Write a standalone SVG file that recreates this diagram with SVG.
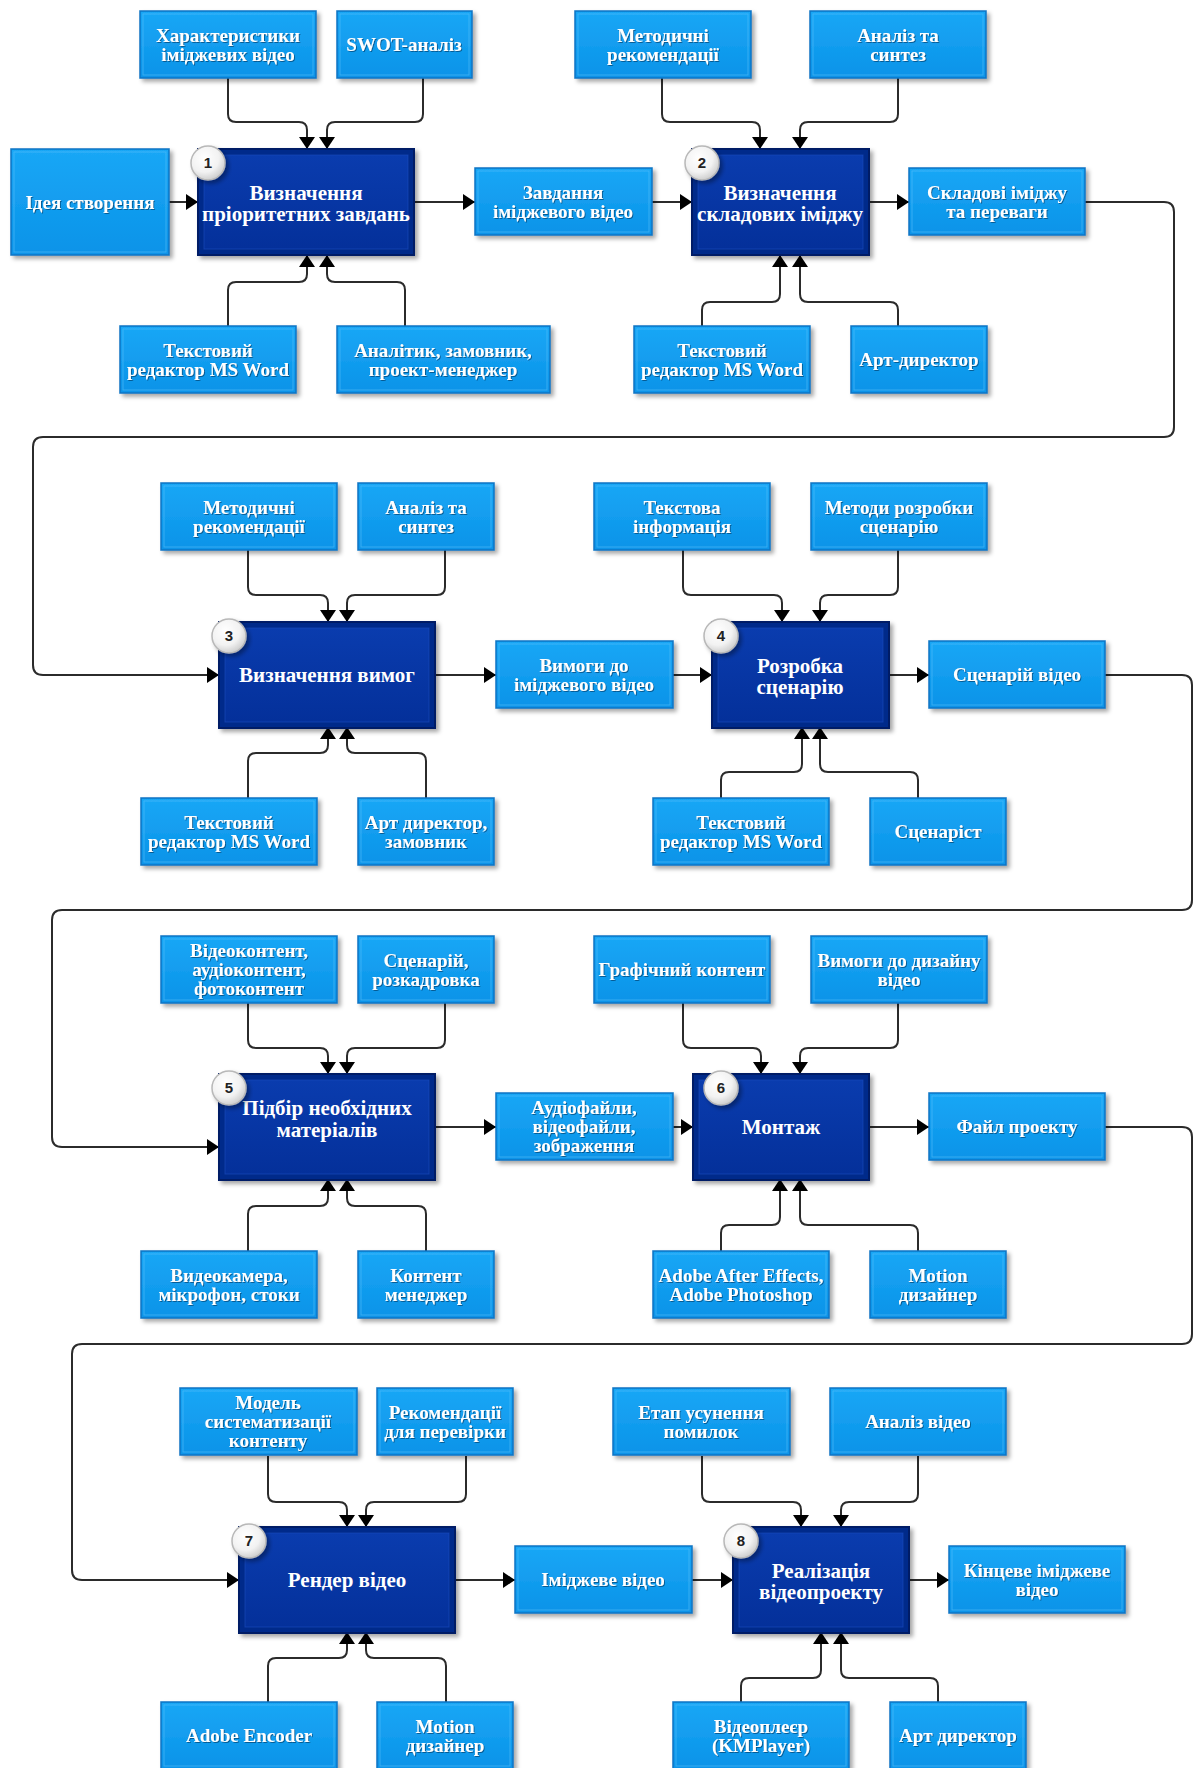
<svg xmlns="http://www.w3.org/2000/svg" width="1195" height="1768" viewBox="0 0 1195 1768">
<defs>
<linearGradient id="gBox" x1="0" y1="0" x2="0" y2="1">
<stop offset="0" stop-color="#1aa7f6"/><stop offset="1" stop-color="#0a93e8"/>
</linearGradient>
<linearGradient id="gNode" x1="0" y1="0" x2="0" y2="1">
<stop offset="0" stop-color="#0a3cae"/><stop offset="1" stop-color="#04309a"/>
</linearGradient>
<radialGradient id="gBadge" cx="0.4" cy="0.35" r="0.7">
<stop offset="0" stop-color="#ffffff"/><stop offset="0.6" stop-color="#f2f2f2"/><stop offset="1" stop-color="#c9c9c9"/>
</radialGradient>
<filter id="sh" x="-10%" y="-10%" width="130%" height="140%">
<feDropShadow dx="3" dy="3" stdDeviation="2" flood-color="#000" flood-opacity="0.35"/>
</filter>
<filter id="tsh" x="-5%" y="-20%" width="110%" height="150%">
<feDropShadow dx="1" dy="1" stdDeviation="0.6" flood-color="#00305a" flood-opacity="0.6"/>
</filter>
<marker id="ah" viewBox="0 0 12 16" refX="12" refY="8" markerWidth="12" markerHeight="16" markerUnits="userSpaceOnUse" orient="auto">
<path d="M0,0 L12,8 L0,16 z" fill="#000"/>
</marker>
<style>
.box{fill:url(#gBox);stroke:#0a74c4;stroke-width:1.5;filter:url(#sh)}
.bin{fill:none;stroke:#5cc3fa;stroke-opacity:0.55;stroke-width:1}
.node{fill:#062a8a;stroke:#011a66;stroke-width:2;filter:url(#sh)}
.nin{fill:url(#gNode);stroke:#1a4cc0;stroke-opacity:0.6;stroke-width:1}
.t{font-family:"Liberation Serif","Times New Roman",serif;font-weight:bold;fill:#fff;text-anchor:middle;font-size:19px;filter:url(#tsh)}
.tn{font-family:"Liberation Serif","Times New Roman",serif;font-weight:bold;fill:#fff;text-anchor:middle;font-size:21px}
.badge{fill:url(#gBadge);stroke:#b8b8b8;stroke-width:1.5;filter:url(#sh)}
.bn{font-family:"Liberation Sans",Arial,sans-serif;font-weight:bold;fill:#222;text-anchor:middle;font-size:15px}
.c{fill:none;stroke:#2b2b2b;stroke-width:2}
</style>
</defs>
<rect width="1195" height="1768" fill="#fff"/>

<g id="connectors">
<!-- row 1 -->
<path class="c" marker-end="url(#ah)" d="M169,202 H198"/>
<path class="c" marker-end="url(#ah)" d="M414,202 H475"/>
<path class="c" marker-end="url(#ah)" d="M652,202 H692"/>
<path class="c" marker-end="url(#ah)" d="M869,202 H909"/>
<path class="c" marker-end="url(#ah)" d="M228,78 V114 Q228,122 236,122 H299 Q307,122 307,130 V149"/>
<path class="c" marker-end="url(#ah)" d="M423,78 V114 Q423,122 415,122 H335 Q327,122 327,130 V149"/>
<path class="c" marker-end="url(#ah)" d="M228,326 V290 Q228,282 236,282 H299 Q307,282 307,274 V255"/>
<path class="c" marker-end="url(#ah)" d="M405,326 V290 Q405,282 397,282 H335 Q327,282 327,274 V255"/>
<path class="c" marker-end="url(#ah)" d="M662,78 V114 Q662,122 670,122 H752 Q760,122 760,130 V149"/>
<path class="c" marker-end="url(#ah)" d="M898,78 V114 Q898,122 890,122 H808 Q800,122 800,130 V149"/>
<path class="c" marker-end="url(#ah)" d="M702,326 V310 Q702,302 710,302 H772 Q780,302 780,294 V255"/>
<path class="c" marker-end="url(#ah)" d="M898,326 V310 Q898,302 890,302 H808 Q800,302 800,294 V255"/>
<path class="c" marker-end="url(#ah)" d="M1085,202 H1164 Q1174,202 1174,212 V427 Q1174,437 1164,437 H43 Q33,437 33,447 V665 Q33,675 43,675 H219"/>
<!-- row 2 -->
<path class="c" marker-end="url(#ah)" d="M435,675 H496"/>
<path class="c" marker-end="url(#ah)" d="M673,675 H712"/>
<path class="c" marker-end="url(#ah)" d="M889,675 H929"/>
<path class="c" marker-end="url(#ah)" d="M248,550 V587 Q248,595 256,595 H320 Q328,595 328,603 V622"/>
<path class="c" marker-end="url(#ah)" d="M445,550 V587 Q445,595 437,595 H355 Q347,595 347,603 V622"/>
<path class="c" marker-end="url(#ah)" d="M248,798 V761 Q248,753 256,753 H320 Q328,753 328,745 V727"/>
<path class="c" marker-end="url(#ah)" d="M426,798 V761 Q426,753 418,753 H355 Q347,753 347,745 V727"/>
<path class="c" marker-end="url(#ah)" d="M683,550 V587 Q683,595 691,595 H774 Q782,595 782,603 V622"/>
<path class="c" marker-end="url(#ah)" d="M898,550 V587 Q898,595 890,595 H828 Q820,595 820,603 V622"/>
<path class="c" marker-end="url(#ah)" d="M721,798 V780 Q721,772 729,772 H794 Q802,772 802,764 V727"/>
<path class="c" marker-end="url(#ah)" d="M918,798 V780 Q918,772 910,772 H828 Q820,772 820,764 V727"/>
<path class="c" marker-end="url(#ah)" d="M1105,675 H1182 Q1192,675 1192,685 V900 Q1192,910 1182,910 H62 Q52,910 52,920 V1137 Q52,1147 62,1147 H219"/>
<!-- row 3 -->
<path class="c" marker-end="url(#ah)" d="M435,1127 H496"/>
<path class="c" marker-end="url(#ah)" d="M673,1127 H693"/>
<path class="c" marker-end="url(#ah)" d="M869,1127 H929"/>
<path class="c" marker-end="url(#ah)" d="M248,1003 V1040 Q248,1048 256,1048 H320 Q328,1048 328,1056 V1074"/>
<path class="c" marker-end="url(#ah)" d="M445,1003 V1040 Q445,1048 437,1048 H355 Q347,1048 347,1056 V1074"/>
<path class="c" marker-end="url(#ah)" d="M248,1251 V1214 Q248,1206 256,1206 H320 Q328,1206 328,1198 V1179"/>
<path class="c" marker-end="url(#ah)" d="M426,1251 V1214 Q426,1206 418,1206 H355 Q347,1206 347,1198 V1179"/>
<path class="c" marker-end="url(#ah)" d="M683,1003 V1040 Q683,1048 691,1048 H753 Q761,1048 761,1056 V1074"/>
<path class="c" marker-end="url(#ah)" d="M898,1003 V1040 Q898,1048 890,1048 H808 Q800,1048 800,1056 V1074"/>
<path class="c" marker-end="url(#ah)" d="M721,1251 V1233 Q721,1225 729,1225 H772 Q780,1225 780,1217 V1179"/>
<path class="c" marker-end="url(#ah)" d="M918,1251 V1233 Q918,1225 910,1225 H808 Q800,1225 800,1217 V1179"/>
<path class="c" marker-end="url(#ah)" d="M1105,1127 H1182 Q1192,1127 1192,1137 V1334 Q1192,1344 1182,1344 H82 Q72,1344 72,1354 V1570 Q72,1580 82,1580 H239"/>
<!-- row 4 -->
<path class="c" marker-end="url(#ah)" d="M455,1580 H515"/>
<path class="c" marker-end="url(#ah)" d="M692,1580 H733"/>
<path class="c" marker-end="url(#ah)" d="M909,1580 H949"/>
<path class="c" marker-end="url(#ah)" d="M268,1456 V1494 Q268,1502 276,1502 H339 Q347,1502 347,1510 V1527"/>
<path class="c" marker-end="url(#ah)" d="M466,1456 V1494 Q466,1502 458,1502 H374 Q366,1502 366,1510 V1527"/>
<path class="c" marker-end="url(#ah)" d="M268,1702 V1666 Q268,1658 276,1658 H339 Q347,1658 347,1650 V1632"/>
<path class="c" marker-end="url(#ah)" d="M446,1702 V1666 Q446,1658 438,1658 H374 Q366,1658 366,1650 V1632"/>
<path class="c" marker-end="url(#ah)" d="M702,1456 V1494 Q702,1502 710,1502 H793 Q801,1502 801,1510 V1527"/>
<path class="c" marker-end="url(#ah)" d="M918,1456 V1494 Q918,1502 910,1502 H849 Q841,1502 841,1510 V1527"/>
<path class="c" marker-end="url(#ah)" d="M741,1702 V1686 Q741,1678 749,1678 H813 Q821,1678 821,1670 V1632"/>
<path class="c" marker-end="url(#ah)" d="M938,1702 V1686 Q938,1678 930,1678 H849 Q841,1678 841,1670 V1632"/>
</g>

<!-- ===== Row 1 ===== -->
<g id="idea"><rect class="box" x="11" y="149" width="158" height="106"/><rect class="bin" x="14" y="152" width="152" height="100"/>
<text class="t" x="90" y="209" font-size="22">Ідея створення</text></g>

<g id="step1"><rect class="node" x="198" y="149" width="216" height="106"/><rect class="nin" x="204" y="155" width="204" height="94"/>
<text class="tn" x="306" y="200">Визначення</text><text class="tn" x="306" y="221">пріоритетних завдань</text>
<circle class="badge" cx="208" cy="163" r="17"/><text class="bn" x="208" y="168">1</text></g>

<g id="in1a"><rect class="box" x="140" y="11" width="176" height="67"/><rect class="bin" x="143" y="14" width="170" height="61"/>
<text class="t" x="228" y="41.5">Характеристики</text><text class="t" x="228" y="60.5">іміджевих відео</text></g>
<g id="in1b"><rect class="box" x="337" y="11" width="135" height="67"/><rect class="bin" x="340" y="14" width="129" height="61"/>
<text class="t" x="404" y="51">SWOT-аналіз</text></g>
<g id="out1"><rect class="box" x="475" y="168" width="177" height="67"/><rect class="bin" x="478" y="171" width="171" height="61"/>
<text class="t" x="563" y="198.5">Завдання</text><text class="t" x="563" y="217.5">іміджевого відео</text></g>
<g id="res1a"><rect class="box" x="120" y="326" width="176" height="67"/><rect class="bin" x="123" y="329" width="170" height="61"/>
<text class="t" x="208" y="356.5">Текстовий</text><text class="t" x="208" y="375.5">редактор MS Word</text></g>
<g id="res1b"><rect class="box" x="337" y="326" width="213" height="67"/><rect class="bin" x="340" y="329" width="207" height="61"/>
<text class="t" x="443" y="356.5">Аналітик, замовник,</text><text class="t" x="443" y="375.5">проект-менеджер</text></g>

<g id="step2"><rect class="node" x="692" y="149" width="177" height="106"/><rect class="nin" x="698" y="155" width="165" height="94"/>
<text class="tn" x="780" y="200">Визначення</text><text class="tn" x="780" y="221">складових іміджу</text>
<circle class="badge" cx="702" cy="163" r="17"/><text class="bn" x="702" y="168">2</text></g>
<g id="in2a"><rect class="box" x="575" y="11" width="176" height="67"/><rect class="bin" x="578" y="14" width="170" height="61"/>
<text class="t" x="663" y="41.5">Методичні</text><text class="t" x="663" y="60.5">рекомендації</text></g>
<g id="in2b"><rect class="box" x="810" y="11" width="176" height="67"/><rect class="bin" x="813" y="14" width="170" height="61"/>
<text class="t" x="898" y="41.5">Аналіз та</text><text class="t" x="898" y="60.5">синтез</text></g>
<g id="out2"><rect class="box" x="909" y="168" width="176" height="67"/><rect class="bin" x="912" y="171" width="170" height="61"/>
<text class="t" x="997" y="198.5">Складові іміджу</text><text class="t" x="997" y="217.5">та переваги</text></g>
<g id="res2a"><rect class="box" x="634" y="326" width="176" height="67"/><rect class="bin" x="637" y="329" width="170" height="61"/>
<text class="t" x="722" y="356.5">Текстовий</text><text class="t" x="722" y="375.5">редактор MS Word</text></g>
<g id="res2b"><rect class="box" x="851" y="326" width="136" height="67"/><rect class="bin" x="854" y="329" width="130" height="61"/>
<text class="t" x="919" y="366">Арт-директор</text></g>

<!-- ===== Row 2 ===== -->
<g id="step3"><rect class="node" x="219" y="622" width="216" height="106"/><rect class="nin" x="225" y="628" width="204" height="94"/>
<text class="tn" x="327" y="682">Визначення вимог</text>
<circle class="badge" cx="229" cy="636" r="17"/><text class="bn" x="229" y="641">3</text></g>
<g id="in3a"><rect class="box" x="161" y="483" width="176" height="67"/><rect class="bin" x="164" y="486" width="170" height="61"/>
<text class="t" x="249" y="513.5">Методичні</text><text class="t" x="249" y="532.5">рекомендації</text></g>
<g id="in3b"><rect class="box" x="358" y="483" width="136" height="67"/><rect class="bin" x="361" y="486" width="130" height="61"/>
<text class="t" x="426" y="513.5">Аналіз та</text><text class="t" x="426" y="532.5">синтез</text></g>
<g id="out3"><rect class="box" x="496" y="641" width="177" height="67"/><rect class="bin" x="499" y="644" width="171" height="61"/>
<text class="t" x="584" y="671.5">Вимоги до</text><text class="t" x="584" y="690.5">іміджевого відео</text></g>
<g id="res3a"><rect class="box" x="141" y="798" width="176" height="67"/><rect class="bin" x="144" y="801" width="170" height="61"/>
<text class="t" x="229" y="828.5">Текстовий</text><text class="t" x="229" y="847.5">редактор MS Word</text></g>
<g id="res3b"><rect class="box" x="358" y="798" width="136" height="67"/><rect class="bin" x="361" y="801" width="130" height="61"/>
<text class="t" x="426" y="828.5">Арт директор,</text><text class="t" x="426" y="847.5">замовник</text></g>

<g id="step4"><rect class="node" x="712" y="622" width="177" height="106"/><rect class="nin" x="718" y="628" width="165" height="94"/>
<text class="tn" x="800" y="673">Розробка</text><text class="tn" x="800" y="694">сценарію</text>
<circle class="badge" cx="721" cy="636" r="17"/><text class="bn" x="721" y="641">4</text></g>
<g id="in4a"><rect class="box" x="594" y="483" width="176" height="67"/><rect class="bin" x="597" y="486" width="170" height="61"/>
<text class="t" x="682" y="513.5">Текстова</text><text class="t" x="682" y="532.5">інформація</text></g>
<g id="in4b"><rect class="box" x="811" y="483" width="176" height="67"/><rect class="bin" x="814" y="486" width="170" height="61"/>
<text class="t" x="899" y="513.5">Методи розробки</text><text class="t" x="899" y="532.5">сценарію</text></g>
<g id="out4"><rect class="box" x="929" y="641" width="176" height="67"/><rect class="bin" x="932" y="644" width="170" height="61"/>
<text class="t" x="1017" y="681">Сценарій відео</text></g>
<g id="res4a"><rect class="box" x="653" y="798" width="176" height="67"/><rect class="bin" x="656" y="801" width="170" height="61"/>
<text class="t" x="741" y="828.5">Текстовий</text><text class="t" x="741" y="847.5">редактор MS Word</text></g>
<g id="res4b"><rect class="box" x="870" y="798" width="136" height="67"/><rect class="bin" x="873" y="801" width="130" height="61"/>
<text class="t" x="938" y="838">Сценаріст</text></g>

<!-- ===== Row 3 ===== -->
<g id="step5"><rect class="node" x="219" y="1074" width="216" height="106"/><rect class="nin" x="225" y="1080" width="204" height="94"/>
<text class="tn" x="327" y="1115">Підбір необхідних</text><text class="tn" x="327" y="1137">матеріалів</text>
<circle class="badge" cx="229" cy="1088" r="17"/><text class="bn" x="229" y="1093">5</text></g>
<g id="in5a"><rect class="box" x="161" y="936" width="176" height="67"/><rect class="bin" x="164" y="939" width="170" height="61"/>
<text class="t" x="249" y="957">Відеоконтент,</text><text class="t" x="249" y="976">аудіоконтент,</text><text class="t" x="249" y="995">фотоконтент</text></g>
<g id="in5b"><rect class="box" x="358" y="936" width="136" height="67"/><rect class="bin" x="361" y="939" width="130" height="61"/>
<text class="t" x="426" y="966.5">Сценарій,</text><text class="t" x="426" y="985.5">розкадровка</text></g>
<g id="out5"><rect class="box" x="496" y="1093" width="177" height="67"/><rect class="bin" x="499" y="1096" width="171" height="61"/>
<text class="t" x="584" y="1114">Аудіофайли,</text><text class="t" x="584" y="1133">відеофайли,</text><text class="t" x="584" y="1152">зображення</text></g>
<g id="res5a"><rect class="box" x="141" y="1251" width="176" height="67"/><rect class="bin" x="144" y="1254" width="170" height="61"/>
<text class="t" x="229" y="1281.5" font-size="17.5">Видеокамера,</text><text class="t" x="229" y="1300.5" font-size="17.5">мікрофон, стоки</text></g>
<g id="res5b"><rect class="box" x="358" y="1251" width="136" height="67"/><rect class="bin" x="361" y="1254" width="130" height="61"/>
<text class="t" x="426" y="1281.5">Контент</text><text class="t" x="426" y="1300.5">менеджер</text></g>

<g id="step6"><rect class="node" x="693" y="1074" width="176" height="106"/><rect class="nin" x="699" y="1080" width="164" height="94"/>
<text class="tn" x="781" y="1134">Монтаж</text>
<circle class="badge" cx="721" cy="1088" r="17"/><text class="bn" x="721" y="1093">6</text></g>
<g id="in6a"><rect class="box" x="594" y="936" width="176" height="67"/><rect class="bin" x="597" y="939" width="170" height="61"/>
<text class="t" x="682" y="976">Графічний контент</text></g>
<g id="in6b"><rect class="box" x="811" y="936" width="176" height="67"/><rect class="bin" x="814" y="939" width="170" height="61"/>
<text class="t" x="899" y="966.5">Вимоги до дизайну</text><text class="t" x="899" y="985.5">відео</text></g>
<g id="out6"><rect class="box" x="929" y="1093" width="176" height="67"/><rect class="bin" x="932" y="1096" width="170" height="61"/>
<text class="t" x="1017" y="1133">Файл проекту</text></g>
<g id="res6a"><rect class="box" x="653" y="1251" width="176" height="67"/><rect class="bin" x="656" y="1254" width="170" height="61"/>
<text class="t" x="741" y="1281.5">Adobe After Effects,</text><text class="t" x="741" y="1300.5">Adobe Photoshop</text></g>
<g id="res6b"><rect class="box" x="870" y="1251" width="136" height="67"/><rect class="bin" x="873" y="1254" width="130" height="61"/>
<text class="t" x="938" y="1281.5">Motion</text><text class="t" x="938" y="1300.5">дизайнер</text></g>

<!-- ===== Row 4 ===== -->
<g id="step7"><rect class="node" x="239" y="1527" width="216" height="106"/><rect class="nin" x="245" y="1533" width="204" height="94"/>
<text class="tn" x="347" y="1587">Рендер відео</text>
<circle class="badge" cx="249" cy="1541" r="17"/><text class="bn" x="249" y="1546">7</text></g>
<g id="in7a"><rect class="box" x="180" y="1388" width="177" height="67"/><rect class="bin" x="183" y="1391" width="171" height="61"/>
<text class="t" x="268" y="1409">Модель</text><text class="t" x="268" y="1428">систематизації</text><text class="t" x="268" y="1447">контенту</text></g>
<g id="in7b"><rect class="box" x="377" y="1388" width="136" height="67"/><rect class="bin" x="380" y="1391" width="130" height="61"/>
<text class="t" x="445" y="1418.5">Рекомендації</text><text class="t" x="445" y="1437.5">для перевірки</text></g>
<g id="out7"><rect class="box" x="515" y="1546" width="177" height="67"/><rect class="bin" x="518" y="1549" width="171" height="61"/>
<text class="t" x="603" y="1586">Іміджеве відео</text></g>
<g id="res7a"><rect class="box" x="161" y="1702" width="176" height="67"/><rect class="bin" x="164" y="1705" width="170" height="61"/>
<text class="t" x="249" y="1742">Adobe Encoder</text></g>
<g id="res7b"><rect class="box" x="377" y="1702" width="136" height="67"/><rect class="bin" x="380" y="1705" width="130" height="61"/>
<text class="t" x="445" y="1732.5">Motion</text><text class="t" x="445" y="1751.5">дизайнер</text></g>

<g id="step8"><rect class="node" x="733" y="1527" width="176" height="106"/><rect class="nin" x="739" y="1533" width="164" height="94"/>
<text class="tn" x="821" y="1578">Реалізація</text><text class="tn" x="821" y="1599">відеопроекту</text>
<circle class="badge" cx="741" cy="1541" r="17"/><text class="bn" x="741" y="1546">8</text></g>
<g id="in8a"><rect class="box" x="613" y="1388" width="177" height="67"/><rect class="bin" x="616" y="1391" width="171" height="61"/>
<text class="t" x="701" y="1418.5">Етап усунення</text><text class="t" x="701" y="1437.5">помилок</text></g>
<g id="in8b"><rect class="box" x="830" y="1388" width="176" height="67"/><rect class="bin" x="833" y="1391" width="170" height="61"/>
<text class="t" x="918" y="1428">Аналіз відео</text></g>
<g id="out8"><rect class="box" x="949" y="1546" width="176" height="67"/><rect class="bin" x="952" y="1549" width="170" height="61"/>
<text class="t" x="1037" y="1576.5">Кінцеве іміджеве</text><text class="t" x="1037" y="1595.5">відео</text></g>
<g id="res8a"><rect class="box" x="673" y="1702" width="176" height="67"/><rect class="bin" x="676" y="1705" width="170" height="61"/>
<text class="t" x="761" y="1732.5">Відеоплеєр</text><text class="t" x="761" y="1751.5">(KMPlayer)</text></g>
<g id="res8b"><rect class="box" x="890" y="1702" width="136" height="67"/><rect class="bin" x="893" y="1705" width="130" height="61"/>
<text class="t" x="958" y="1742">Арт директор</text></g>
</svg>
